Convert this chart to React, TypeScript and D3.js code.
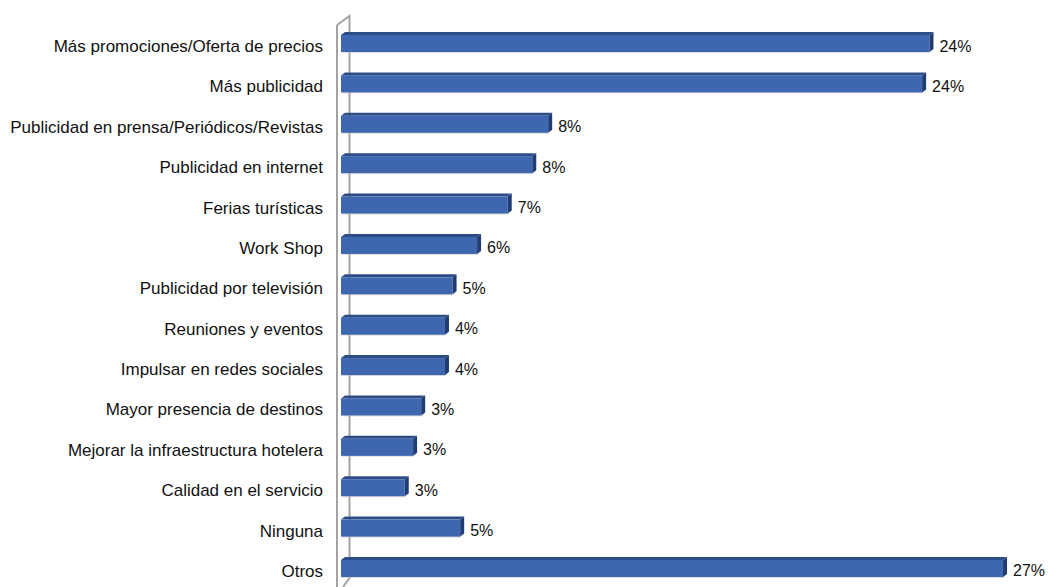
import React from "react";
import * as d3 from "d3";

const categories = [
  "Más promociones/Oferta de precios",
  "Más publicidad",
  "Publicidad en prensa/Periódicos/Revistas",
  "Publicidad en internet",
  "Ferias turísticas",
  "Work Shop",
  "Publicidad por televisión",
  "Reuniones y eventos",
  "Impulsar en redes sociales",
  "Mayor presencia de destinos",
  "Mejorar la infraestructura hotelera",
  "Calidad en el servicio",
  "Ninguna",
  "Otros",
];

const values = [24.0, 23.7, 8.45, 7.8, 6.8, 5.55, 4.55, 4.24, 4.24, 3.27, 2.94, 2.6, 4.86, 27.0];

const valueLabels = ["24%", "24%", "8%", "8%", "7%", "6%", "5%", "4%", "4%", "3%", "3%", "3%", "5%", "27%"];

const W = 1048;
const H = 587;

export default function App() {
  const x = d3.scaleLinear().domain([0, 30]).range([341, 341 + 30 * 24.52]);
  const y = d3.scaleBand<string>().domain(categories).range([35, 577]).paddingInner(0.579).paddingOuter(0);
  const bw = y.bandwidth();
  const dx = 4;
  const dy = 3;
  const font = "'Liberation Sans', Arial, sans-serif";
  const wallColor = "#a3a3a3";

  return (
    <svg width={W} height={H} style={{ position: "absolute", left: 0, top: 0, background: "#fff" }}>
      {/* wall (back) */}
      <path d={`M337,25 L349.5,16 L349.5,578 L343,587`} fill="none" stroke={wallColor} strokeWidth={2} />
      <line x1={337} y1={25} x2={337} y2={H} stroke={wallColor} strokeWidth={2} />
      {categories.map((c, i) => {
        const y0 = y(c) as number;
        const x0 = x(0);
        const x1 = x(values[i]);
        const cy = y0 + bw / 2;
        return (
          <g key={c}>
            {/* shadow */}
            <rect x={x0 + 1} y={y0 + 1} width={x1 - x0} height={bw} fill="#c8c8c8" opacity={0.6} />
            {/* top face */}
            <path
              d={`M${x0},${y0} L${x0 + dx},${y0 - dy} L${x1 + dx},${y0 - dy} L${x1},${y0} Z`}
              fill="#2c4c86"
            />
            {/* right face */}
            <path
              d={`M${x1},${y0} L${x1 + dx},${y0 - dy} L${x1 + dx},${y0 + bw - dy} L${x1},${y0 + bw} Z`}
              fill="#203c70"
            />
            {/* front face */}
            <rect x={x0} y={y0} width={x1 - x0} height={bw} fill="#3e67b0" />
            <text
              x={323}
              y={cy + 8.5}
              textAnchor="end"
              fontFamily={font}
              fontSize={17}
              fill="#111"
            >
              {c}
            </text>
            <text x={x1 + 10} y={cy + 8} fontFamily={font} fontSize={16} fill="#111">
              {valueLabels[i]}
            </text>
          </g>
        );
      })}
    </svg>
  );
}
